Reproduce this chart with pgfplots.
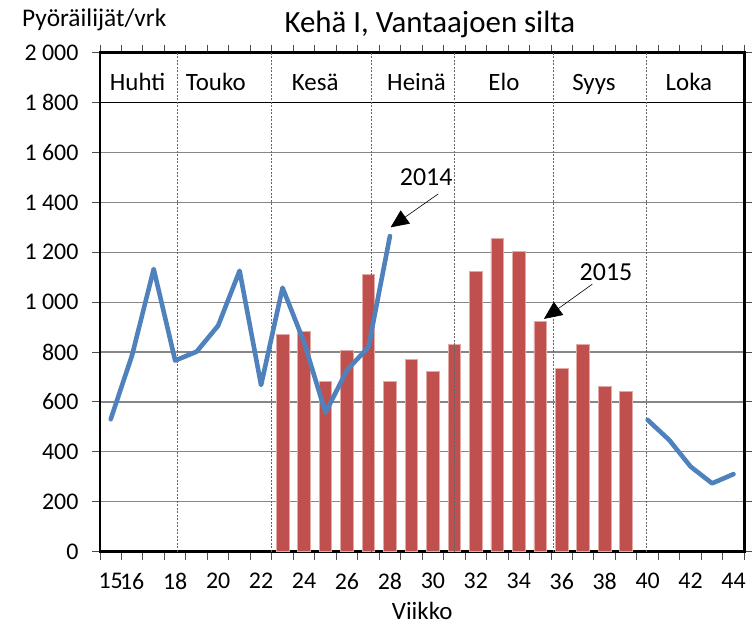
\documentclass[border=0pt]{standalone}
\usepackage{fontspec}
\setmainfont{Carlito}
\usepackage{pgfplots}
\pgfplotsset{compat=1.18}
\usetikzlibrary{arrows.meta}
\definecolor{barred}{HTML}{C0504D}
\definecolor{baredge}{HTML}{E3A9A7}
\definecolor{lineblue}{HTML}{4F81BD}
\definecolor{gridgray}{HTML}{868686}
\tikzset{mdash/.style={dash pattern=on 2bp off 1.5bp, black!60, line width=0.7bp},
  mlab/.style={anchor=base, font=\fontsize{25}{25}\selectfont, inner sep=0pt}}
\begin{document}
\begin{tikzpicture}
\useasboundingbox (0,0) rectangle (755bp,629bp);
\begin{axis}[
  at={(100bp,77.3bp)}, anchor=south west,
  scale only axis, width=644.3bp, height=499bp,
  xmin=14.5, xmax=44.5, ymin=0, ymax=2000,
  xtick={15,16,18,20,22,24,26,28,30,32,34,36,38,40,42,44},
  xticklabels={15,16,18,20,22,24,26,28,30,32,34,36,38,40,42,44},
  minor xtick={14.5,15.5,...,44.5},
  ytick={0,200,...,2000},
  yticklabels={0,200,400,600,800,1~000,1~200,1~400,1~600,1~800,2~000},
  tick align=outside,
  major tick length=8bp, minor tick length=8bp,
  major x tick style={draw=none},
  minor x tick style={black!70, line width=1bp},
  major y tick style={black!70, line width=1bp},
  ymajorgrids, major grid style={gridgray, line width=1.2bp},
  axis line style={black, line width=2.4bp},
  ticklabel style={font=\fontsize{24}{24}\selectfont},
  xticklabel style={yshift=-10bp},
  yticklabel style={xshift=-10bp},
  xlabel={Viikko},
  xlabel style={font=\fontsize{25}{25}\selectfont, yshift=-6bp},
  clip=false,
]
\addplot[ybar, bar width=12.7bp, fill=barred, draw=baredge, line width=0.8bp]
  coordinates {(23,872)(24,882)(25,681)(26,806)(27,1112)(28,681)(29,771)(30,721)
  (31,831)(32,1124)(33,1254)(34,1202)(35,923)(36,735)(37,831)(38,664)(39,641)};
\draw[black, line width=1.8bp] (axis cs:14.5,1800) -- (axis cs:44.5,1800);
\draw[mdash] (axis cs:18.1,0) -- (axis cs:18.1,2000);
\draw[mdash] (axis cs:22.5,0) -- (axis cs:22.5,2000);
\draw[mdash] (axis cs:27.12,0) -- (axis cs:27.12,2000);
\draw[mdash] (axis cs:31.02,0) -- (axis cs:31.02,2000);
\draw[mdash] (axis cs:35.6,0) -- (axis cs:35.6,2000);
\draw[mdash] (axis cs:39.92,0) -- (axis cs:39.92,2000);
\addplot[lineblue, line width=4.6bp, line join=round, line cap=round, mark=none]
  coordinates {(15,531)(16,789)(17,1133)(18,766)(19,802)(20,906)(21,1126)(22,668)
  (23,1058)(24,840)(25,557)(26,728)(27,820)(28,1265)};
\addplot[lineblue, line width=4.6bp, line join=round, line cap=round, mark=none]
  coordinates {(40,528)(41,448)(42,341)(43,274)(44,311)};
\node[mlab] at (axis cs:16.25,1848) {Huhti};
\node[mlab] at (axis cs:19.89,1848) {Touko};
\node[mlab] at (axis cs:24.52,1848) {Kesä};
\node[mlab] at (axis cs:29.24,1848) {Heinä};
\node[mlab] at (axis cs:33.31,1848) {Elo};
\node[mlab] at (axis cs:37.5,1848) {Syys};
\node[mlab] at (axis cs:41.92,1848) {Loka};
\node[anchor=base, font=\fontsize{26}{26}\selectfont, inner sep=0pt] at (axis cs:29.69,1467) {2014};
\draw[line width=0.6bp, -{Triangle[length=18bp,width=16bp]}] (axis cs:30.25,1434) -- (axis cs:28.03,1300);
\node[anchor=base, font=\fontsize{26}{26}\selectfont, inner sep=0pt] at (axis cs:38.06,1085) {2015};
\draw[line width=0.6bp, -{Triangle[length=18bp,width=16bp]}] (axis cs:37.42,1072) -- (axis cs:35.17,933);
\node[anchor=base west, font=\fontsize{25.5}{25.5}\selectfont, inner sep=0pt] at (rel axis cs:-0.121,1.052) {Pyöräilijät/vrk};
\node[anchor=base, font=\fontsize{31}{31}\selectfont, inner sep=0pt] at (rel axis cs:0.512,1.040) {Kehä I, Vantaajoen silta};
\end{axis}
\end{tikzpicture}
\end{document}
